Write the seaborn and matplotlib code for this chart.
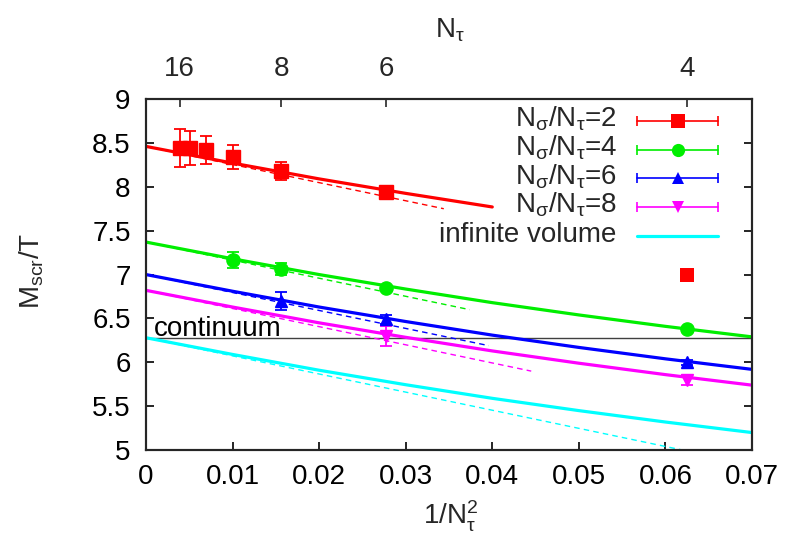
import numpy as np
import pandas as pd
import matplotlib
matplotlib.use("Agg")
import matplotlib.pyplot as plt
import seaborn as sns

sns.set_theme(style="ticks")
plt.rcParams['font.family'] = ['Liberation Sans', 'DejaVu Sans']
plt.rcParams['mathtext.fontset'] = 'custom'
plt.rcParams['mathtext.rm'] = 'Liberation Sans'
plt.rcParams['mathtext.it'] = 'Liberation Sans'
plt.rcParams['mathtext.bf'] = 'Liberation Sans:bold'
plt.rcParams['mathtext.sf'] = 'Liberation Sans'

# ---------------- data ----------------
# lattice data points (N_tau, M/T, error)
nt_red = [16, 14, 12, 10, 8, 6]
m_red = [8.445, 8.44, 8.42, 8.34, 8.18, 7.94]
e_red = [0.215, 0.19, 0.16, 0.14, 0.10, 0.05]
nt_red_extra = [4]
m_red_extra = [6.99]

nt_green = [10, 8, 6, 4]
m_green = [7.17, 7.06, 6.85, 6.38]
e_green = [0.09, 0.07, 0.03, 0.02]

nt_blue = [8, 6, 4]
m_blue = [6.70, 6.49, 6.00]
e_blue = [0.10, 0.05, 0.03]

nt_mag = [6, 4]
m_mag = [6.30, 5.80]
e_mag = [0.115, 0.06]

# fit curves (solid), sampled in 1/N_tau^2
fit_x = [0.0, 0.01, 0.02, 0.03, 0.04, 0.05, 0.06, 0.07]
fit_red = [8.46, 8.27, 8.09, 7.925, 7.77]
fit_green = [7.37, 7.18, 7.00, 6.835, 6.68, 6.54, 6.41, 6.29]
fit_blue = [7.00, 6.81, 6.63, 6.465, 6.31, 6.17, 6.04, 5.92]
fit_mag = [6.82, 6.63, 6.45, 6.285, 6.13, 5.99, 5.86, 5.74]
fit_inf = [6.28, 6.09, 5.91, 5.745, 5.59, 5.45, 5.32, 5.20]

# linear fits (dashed): start and end points
lin_x0 = [0.0, 0.0, 0.0, 0.0, 0.0]
lin_y0 = [8.46, 7.37, 7.00, 6.82, 6.28]
lin_x1 = [0.0344, 0.0374, 0.0396, 0.0445, 0.0625]
lin_y1 = [7.75, 6.60, 6.19, 5.90, 4.99]

continuum = 6.28
top_nt = [16, 8, 6, 4]
xticks = [0, 0.01, 0.02, 0.03, 0.04, 0.05, 0.06, 0.07]
xticklabels = ["0", "0.01", "0.02", "0.03", "0.04", "0.05", "0.06", "0.07"]
yticks = [5, 5.5, 6, 6.5, 7, 7.5, 8, 8.5, 9]
yticklabels = ["5", "5.5", "6", "6.5", "7", "7.5", "8", "8.5", "9"]

labels = [r"N$_\sigma$/N$_\tau$=2", r"N$_\sigma$/N$_\tau$=4",
          r"N$_\sigma$/N$_\tau$=6", r"N$_\sigma$/N$_\tau$=8", "infinite volume"]
colors = ["#ff0000", "#00ee00", "#0000ff", "#ff00ff", "#00ffff"]
markers = ["s", "o", "^", "v", None]
msizes = [9.5, 9.5, 8.5, 8.5, 0]

# ---------------- figure ----------------
fig = plt.figure(figsize=(7.87, 5.41), dpi=100)
ax = fig.add_axes([0.1855, 0.168, 0.77, 0.649])
FS = 20

# continuum
ax.axhline(continuum, color="#404040", lw=1.0, zorder=1)
ax.text(0.0009, continuum + 0.02, "continuum", fontsize=FS, color="black",
        ha="left", va="baseline", zorder=2)

# solid fits
fits = [fit_red, fit_green, fit_blue, fit_mag, fit_inf]
for yv, c in zip(fits, colors):
    df = pd.DataFrame({"x": fit_x[:len(yv)], "y": yv})
    sns.lineplot(data=df, x="x", y="y", ax=ax, color=c, lw=2.3, zorder=3)

# dashed linear fits
for x0, y0, x1, y1, c in zip(lin_x0, lin_y0, lin_x1, lin_y1, colors):
    df = pd.DataFrame({"x": [x0, x1], "y": [y0, y1]})
    sns.lineplot(data=df, x="x", y="y", ax=ax, color=c, lw=1.0,
                 linestyle=(0, (4, 3)), zorder=2)

# data points
pts = [(nt_red, m_red, e_red), (nt_green, m_green, e_green),
       (nt_blue, m_blue, e_blue), (nt_mag, m_mag, e_mag)]
for (nt, m, e), c, mk, ms in zip(pts, colors, markers, msizes):
    x = 1.0 / np.asarray(nt, float) ** 2
    ax.errorbar(x, m, yerr=e, fmt=mk, color=c, ms=ms, mec=c, mfc=c,
                elinewidth=1.3, capsize=4, capthick=1.3, zorder=4)
ax.plot(1.0 / np.asarray(nt_red_extra, float) ** 2, m_red_extra, "s",
        color=colors[0], ms=9.5, mew=0, zorder=4)

ax.set_xlim(0, 0.07)
ax.set_ylim(5, 9)
ax.set_xticks(xticks)
ax.set_xticklabels(xticklabels)
ax.set_yticks(yticks)
ax.set_yticklabels(yticklabels)
ax.set_xlabel("")
ax.set_ylabel("")
ax.tick_params(axis="both", direction="in", length=6, width=1.2,
               labelsize=FS, colors="black", right=True, top=False)
ax.tick_params(axis="y", pad=11)
ax.tick_params(axis="x", pad=10)
for s in ax.spines.values():
    s.set_visible(True)
    s.set_linewidth(1.5)
    s.set_color("black")

# top axis
ax2 = ax.twiny()
ax2.set_xlim(0, 0.07)
ax2.set_xticks([1.0 / n ** 2 for n in top_nt])
ax2.set_xticklabels([str(n) for n in top_nt])
ax2.tick_params(axis="x", direction="in", length=6, width=1.2, labelsize=FS,
                pad=12)
for s in ax2.spines.values():
    s.set_linewidth(1.5)

# axis labels
fig.text(0.572, 0.045, r"1/N$_\tau^2$", fontsize=FS, ha="center", va="center")
fig.text(0.572, 0.945, r"N$_\tau$", fontsize=FS, ha="center", va="center")
fig.text(0.04, 0.50, r"M$_{\rm scr}$/T", fontsize=FS, ha="center", va="center",
         rotation=90)

# legend (manual, gnuplot style: right-aligned text, sample on right)
leg_y = [0.938, 0.856, 0.775, 0.693, 0.611]
lx0, lx1, lxm, ltx = 0.810, 0.944, 0.878, 0.777
for lab, c, mk, ms, y in zip(labels, colors, markers, msizes, leg_y):
    if mk is None:
        ax.plot([lx0, lx1], [y, y], color=c, lw=2.3, transform=ax.transAxes,
                clip_on=False, zorder=5)
    else:
        ax.plot([lx0, lx1], [y, y], color=c, lw=1.2, transform=ax.transAxes,
                clip_on=False, zorder=5)
        ax.plot([lx0, lx1], [y, y], ls="none", marker="|", ms=7, mew=1.2,
                color=c, transform=ax.transAxes, clip_on=False, zorder=5)
        ax.plot([lxm], [y], marker=mk, ms=ms, mew=0, color=c,
                transform=ax.transAxes, clip_on=False, zorder=5)
    ax.text(ltx, y - 6 / 351, lab, fontsize=FS, ha="right", va="baseline",
            transform=ax.transAxes, zorder=5)

fig.savefig("out.png", dpi=100)
